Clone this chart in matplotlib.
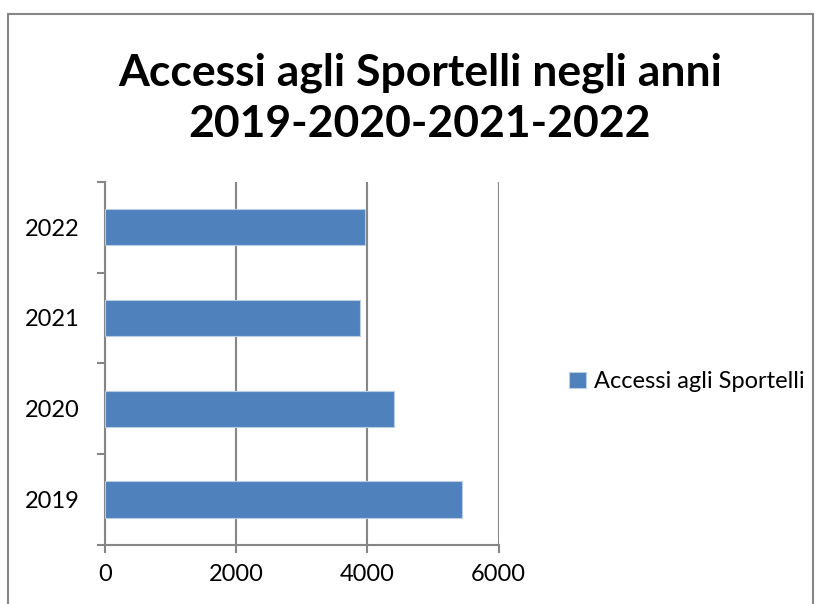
import matplotlib.pyplot as plt
from matplotlib.patches import Rectangle

anni = ["2019", "2020", "2021", "2022"]
accessi = [5450, 4405, 3890, 3970]
serie = "Accessi agli Sportelli"
titolo = "Accessi agli Sportelli negli anni\n2019-2020-2021-2022"
ticks_x = [0, 2000, 4000, 6000]

plt.rcParams["font.family"] = ["Lato", "DejaVu Sans"]

fig = plt.figure(figsize=(8.2, 6.04), dpi=100)
ax = fig.add_axes([0.128, 0.098, 0.480, 0.601])

grigio = "#868686"
ypos = list(range(len(anni)))
ax.barh(ypos, accessi, height=0.4, color="#4F81BD", edgecolor="#B9CDE5",
        linewidth=0.8, label=serie, zorder=3)

ax.set_xlim(0, 6000)
ax.set_ylim(-0.5, len(anni) - 0.5)
ax.set_xticks(ticks_x)
ax.set_xticklabels([str(t) for t in ticks_x], fontsize=17)
ax.set_yticks(ypos)
ax.set_yticklabels(anni, fontsize=17)
ax.set_yticks([y - 0.5 for y in range(len(anni) + 1)], minor=True)
ax.tick_params(axis="y", which="major", length=0, pad=18)
ax.tick_params(axis="y", which="minor", length=6, color=grigio, width=1.5)
ax.tick_params(axis="x", length=6, color=grigio, width=1.5, pad=8)
ax.xaxis.grid(True, color=grigio, linewidth=1.5, zorder=0)

for s in ["top", "right"]:
    ax.spines[s].set_visible(False)
for s in ["left", "bottom"]:
    ax.spines[s].set_color(grigio)
    ax.spines[s].set_linewidth(1.5)

fig.text(0.512, 0.837, titolo, ha="center", va="center", fontsize=32,
         fontweight="bold", linespacing=1.35)

fig.legend(loc="center left", bbox_to_anchor=(0.668, 0.368), frameon=False,
           fontsize=17, handlelength=0.7, handleheight=0.7, handletextpad=0.35)

# bordo dell'area del grafico
fig.patches.append(Rectangle((0.010, -0.01), 0.981, 0.987, transform=fig.transFigure,
                             fill=False, edgecolor=grigio, linewidth=1.5))

fig.savefig("out.png", dpi=100)
